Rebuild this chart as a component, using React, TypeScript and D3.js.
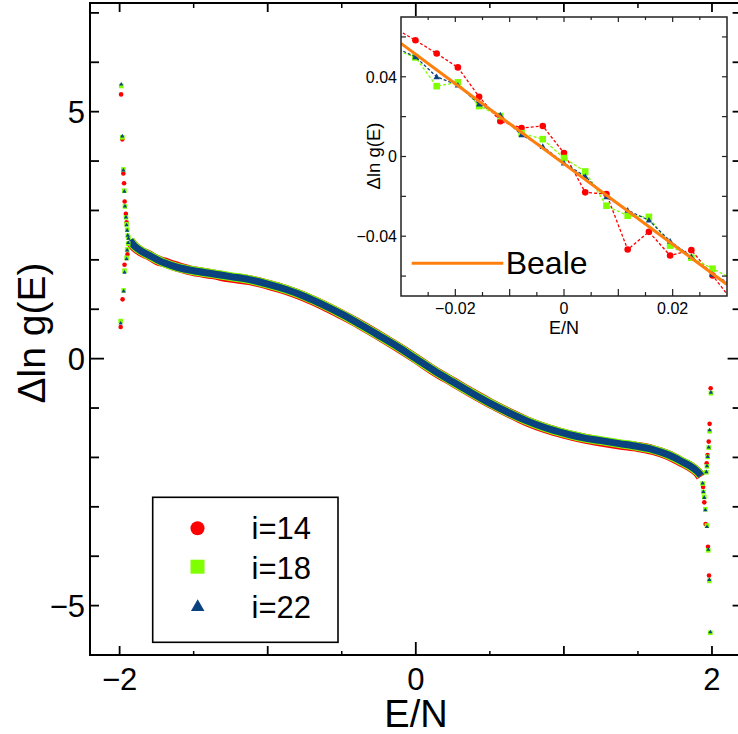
import React from "react";
import * as d3 from "d3";

// ---------- main panel data ----------
const curveE = [-1.93,-1.9,-1.85,-1.8,-1.75,-1.7,-1.6,-1.5,-1.375,-1.25,-1.125,-1.0,-0.875,-0.75,-0.625,-0.5,-0.375,-0.25,-0.125,0,0.125,0.25,0.375,0.5,0.625,0.75,0.875,1.0,1.125,1.25,1.375,1.5,1.6,1.7,1.75,1.8,1.85,1.9,1.926];
const curve22 = [2.40,2.28,2.17,2.09,2.01,1.94,1.84,1.78,1.72,1.66,1.60,1.51,1.40,1.26,1.09,0.90,0.69,0.47,0.245,0,-0.245,-0.47,-0.69,-0.90,-1.09,-1.26,-1.40,-1.51,-1.60,-1.66,-1.72,-1.78,-1.84,-1.94,-2.01,-2.09,-2.17,-2.28,-2.37];
const curve18 = [2.40,2.28,2.17,2.09,2.01,1.94,1.84,1.78,1.72,1.66,1.60,1.51,1.40,1.26,1.09,0.90,0.69,0.47,0.245,0,-0.245,-0.47,-0.69,-0.90,-1.09,-1.26,-1.40,-1.51,-1.60,-1.66,-1.72,-1.78,-1.84,-1.94,-2.01,-2.09,-2.17,-2.28,-2.37];
const curve14 = [2.38,2.27,2.16,2.09,2.00,1.95,1.85,1.77,1.71,1.64,1.59,1.50,1.39,1.25,1.08,0.89,0.69,0.47,0.24,0,-0.25,-0.47,-0.69,-0.90,-1.09,-1.27,-1.41,-1.52,-1.61,-1.68,-1.74,-1.79,-1.85,-1.95,-2.02,-2.10,-2.18,-2.29,-2.39];

const spikeE22 = [-1.989,-1.982,-1.975,-1.968,-1.964,-1.957,-1.953,-1.949,-1.945,-1.940,-1.942,-1.949,-1.953,-1.967,-1.973,-1.993,1.993,1.984,1.978,1.971,1.966,1.962,1.937,1.942,1.948,1.955,1.966,1.975,1.982,1.989];
const spikeV22 = [5.56,4.51,3.82,3.39,3.09,2.87,2.71,2.60,2.50,2.44,2.35,2.20,2.02,1.75,1.37,0.72,-0.68,-1.44,-1.79,-1.98,-2.17,-2.29,-2.52,-2.69,-2.81,-3.06,-3.40,-3.86,-4.47,-5.53];
const spikeE18 = [-1.989,-1.982,-1.975,-1.968,-1.964,-1.957,-1.953,-1.949,-1.945,-1.940,-1.942,-1.949,-1.953,-1.967,-1.973,-1.993,1.993,1.984,1.978,1.971,1.966,1.962,1.937,1.942,1.948,1.955,1.966,1.975,1.982,1.989];
const spikeV18 = [5.52,4.48,3.83,3.40,3.08,2.86,2.72,2.61,2.49,2.45,2.33,2.21,2.04,1.78,1.38,0.76,-0.70,-1.47,-1.80,-1.99,-2.18,-2.30,-2.53,-2.70,-2.80,-3.05,-3.38,-3.88,-4.50,-5.55];
const spikeE14 = [-1.990,-1.982,-1.975,-1.970,-1.966,-1.958,-1.953,-1.947,-1.967,-1.980,-1.993,1.991,1.984,1.978,1.970,1.964,1.940,1.948,1.957,1.973,1.980];
const spikeV14 = [5.35,4.44,3.75,3.55,3.18,2.93,2.76,2.11,1.90,1.20,0.64,-0.60,-1.32,-1.68,-1.95,-2.12,-2.60,-2.91,-3.35,-3.81,-4.39];

const xMajorTicks = [-2,-1,0,1,2];
const xMinorTicks = [-1.5,-0.5,0.5,1.5];
const xTickLabels = [-2,0,2];
const yTicks = [-5,-4,-3,-2,-1,0,1,2,3,4,5,6,7];
const yTickLabels = [-5,0,5];
const legendLabels = ["i=14","i=18","i=22"];

// ---------- inset data ----------
const insetK = [-8,-7,-6,-5,-4,-3,-2,-1,0,1,2,3,4,5,6,7,8];
const inset14 = [0.0645,0.0583,0.0517,0.0447,0.030,0.0177,0.0143,0.0153,0.0017,-0.018,-0.0188,-0.0467,-0.0378,-0.0497,-0.047,-0.0597,-0.0734];
const inset18 = [0.0538,0.0497,0.0353,0.0372,0.0253,0.0203,0.0117,0.0087,-0.0008,-0.0075,-0.0247,-0.0297,-0.0303,-0.0447,-0.0508,-0.0563,-0.0617];
const inset22 = [0.0549,0.05,0.04,0.0358,0.0263,0.0208,0.0108,0.005,-0.0033,-0.01,-0.0203,-0.027,-0.032,-0.0425,-0.0503,-0.0592,-0.0648];
const bealeE = [-0.03,-0.02,-0.01,0,0.01,0.02,0.03];
const bealeV = [0.0567,0.0365,0.0164,-0.0037,-0.0238,-0.044,-0.0642];
const insetXTicks = [-0.025,-0.02,-0.015,-0.01,-0.005,0,0.005,0.01,0.015,0.02,0.025];
const insetXLabels = [-0.02,0,0.02];
const insetYTicks = [-0.06,-0.04,-0.02,0,0.02,0.04,0.06];
const insetYLabels = [-0.04,0,0.04];

const RED = "#ff0000";
const GREEN = "#80ff00";
const BLUE = "#0a4280";
const ORANGE = "#ff7f0e";
const FONT = "'Liberation Sans', Arial, Helvetica, sans-serif";

const fmt = (v: number) => (v < 0 ? "\u2212" + String(Math.abs(v)) : String(v));

function tri(cx: number, cy: number, s: number) {
  const h = (s * Math.sqrt(3)) / 2;
  return `M${cx},${cy - (2 * h) / 3}L${cx + s / 2},${cy + h / 3}L${cx - s / 2},${cy + h / 3}Z`;
}

export default function App() {
  const W = 738, H = 734;
  const x = d3.scaleLinear().domain([-2.2, 2.2]).range([90, 741.6]);
  const y = d3.scaleLinear().domain([-6, 7.2]).range([655, 3]);

  const xi = d3.scaleLinear().domain([-0.03, 0.03]).range([401, 727]);
  const yi = d3.scaleLinear().domain([-0.07, 0.07]).range([296, 17]);
  const insetE = insetK.map((k) => k * (4 / 1024));

  const mainLine = (vals: number[]) =>
    d3.line<number>().x((_, i) => x(curveE[i])).y((v) => y(v)).curve(d3.curveCatmullRom)(vals) || "";
  const insetLine = (vals: number[]) =>
    d3.line<number>().x((_, i) => xi(insetE[i])).y((v) => yi(v))(vals) || "";
  const bealePath = d3.line<number>().x((_, i) => xi(bealeE[i])).y((v) => yi(v))(bealeV) || "";

  const X0 = 90, X1 = 741.6, Y0 = 3, Y1 = 655;
  const xTickLen = (t: number) => (t === 0 ? 13 : 9);
  const yTickLen = (t: number) => (t === 0 ? 14 : 9);

  return (
    <svg width={W} height={H} style={{ position: "absolute", left: 0, top: 0, background: "#fff" }} fontFamily={FONT}>
      <rect x={0} y={0} width={W} height={H} fill="#fff" />
      <defs>
        <clipPath id="insetClip">
          <rect x={401} y={17} width={326} height={279} />
        </clipPath>
      </defs>

      {/* main bands */}
      <path d={mainLine(curve14)} fill="none" stroke={RED} strokeWidth={10} strokeLinejoin="round" />
      <path d={mainLine(curve18)} fill="none" stroke={GREEN} strokeWidth={9} strokeLinejoin="round" />
      <path d={mainLine(curve22)} fill="none" stroke={BLUE} strokeWidth={7} strokeLinejoin="round" />

      {/* spike markers */}
      {spikeE14.map((e, i) => (
        <circle key={"r" + i} cx={x(e)} cy={y(spikeV14[i])} r={2.3} fill={RED} />
      ))}
      {spikeE18.map((e, i) => (
        <rect key={"g" + i} x={x(e) - 2.3} y={y(spikeV18[i]) - 2.3} width={4.6} height={4.6} fill={GREEN} />
      ))}
      {spikeE22.map((e, i) => (
        <path key={"b" + i} d={tri(x(e), y(spikeV22[i]) + 0.3, 4.2)} fill={BLUE} />
      ))}

      {/* main frame */}
      <rect x={X0} y={Y0} width={X1 - X0} height={Y1 - Y0} fill="none" stroke="#000" strokeWidth={2} />
      {xMajorTicks.map((t) => (
        <g key={"xt" + t}>
          <line x1={x(t)} x2={x(t)} y1={Y1} y2={Y1 - xTickLen(t)} stroke="#000" strokeWidth={1.8} />
          <line x1={x(t)} x2={x(t)} y1={Y0} y2={Y0 + xTickLen(t)} stroke="#000" strokeWidth={1.8} />
        </g>
      ))}
      {xMinorTicks.map((t) => (
        <g key={"xm" + t}>
          <line x1={x(t)} x2={x(t)} y1={Y1} y2={Y1 - 4} stroke="#000" strokeWidth={1.5} />
          <line x1={x(t)} x2={x(t)} y1={Y0} y2={Y0 + 5} stroke="#000" strokeWidth={1.5} />
        </g>
      ))}
      {yTicks.map((t) => (
        <g key={"yt" + t}>
          <line x1={X0} x2={X0 + yTickLen(t)} y1={y(t)} y2={y(t)} stroke="#000" strokeWidth={1.8} />
          <line x1={X1} x2={X1 - yTickLen(t)} y1={y(t)} y2={y(t)} stroke="#000" strokeWidth={1.8} />
        </g>
      ))}
      {xTickLabels.map((t) => (
        <text key={"xl" + t} x={x(t)} y={690} fontSize={31} textAnchor="middle">{fmt(t)}</text>
      ))}
      {yTickLabels.map((t) => (
        <text key={"yl" + t} x={85} y={y(t)} dy="0.36em" fontSize={31} textAnchor="end">{fmt(t)}</text>
      ))}
      <text x={416} y={727} fontSize={38} textAnchor="middle">E/N</text>
      <text transform="translate(45,333) rotate(-90)" fontSize={39} textAnchor="middle">Δln g(E)</text>

      {/* legend */}
      <rect x={152.7} y={497.3} width={185.3} height={145} fill="#fff" stroke="#000" strokeWidth={1.6} />
      <circle cx={197.5} cy={528.3} r={7} fill={RED} />
      <rect x={190.5} y={559.7} width={14} height={14} fill={GREEN} />
      <path d={tri(197.7, 607, 13.5)} fill={BLUE} />
      {legendLabels.map((l, i) => (
        <text key={l} x={251.5} y={539.3 + i * 39.2} fontSize={31}>{l}</text>
      ))}

      {/* inset */}
      <rect x={401} y={17} width={326} height={279} fill="#fff" />
      <g clipPath="url(#insetClip)">
        <path d={insetLine(inset14)} fill="none" stroke={RED} strokeWidth={1.3} strokeDasharray="3,2" />
        {insetE.map((e, i) => (
          <circle key={"ir" + i} cx={xi(e)} cy={yi(inset14[i])} r={3.3} fill={RED} />
        ))}
        <path d={insetLine(inset18)} fill="none" stroke={GREEN} strokeWidth={1.3} strokeDasharray="3,2" />
        {insetE.map((e, i) => (
          <rect key={"ig" + i} x={xi(e) - 3.3} y={yi(inset18[i]) - 3.3} width={6.6} height={6.6} fill={GREEN} />
        ))}
        <path d={insetLine(inset22)} fill="none" stroke={BLUE} strokeWidth={1.3} strokeDasharray="3,2" />
        {insetE.map((e, i) => (
          <path key={"ib" + i} d={tri(xi(e), yi(inset22[i]) + 0.5, 6.4)} fill={BLUE} />
        ))}
        <path d={bealePath} fill="none" stroke={ORANGE} strokeWidth={3} />
      </g>
      <rect x={401} y={17} width={326} height={279} fill="none" stroke="#222" strokeWidth={1.5} />
      {insetXTicks.map((t) => {
        const major = Math.abs(Math.round(t * 100) - t * 100) < 1e-6;
        return (
          <g key={"ixt" + t}>
            <line x1={xi(t)} x2={xi(t)} y1={296} y2={296 - (major ? 7 : 4)} stroke="#222" strokeWidth={1.2} />
            <line x1={xi(t)} x2={xi(t)} y1={17} y2={17 + (major ? 5 : 3)} stroke="#222" strokeWidth={1.2} />
          </g>
        );
      })}
      {insetYTicks.map((t) => (
        <g key={"iyt" + t}>
          <line x1={401} x2={406} y1={yi(t)} y2={yi(t)} stroke="#222" strokeWidth={1.2} />
          <line x1={727} x2={722} y1={yi(t)} y2={yi(t)} stroke="#222" strokeWidth={1.2} />
        </g>
      ))}
      {insetXLabels.map((t) => (
        <text key={"ixl" + t} x={xi(t)} y={314} fontSize={16} textAnchor="middle">{fmt(t)}</text>
      ))}
      {insetYLabels.map((t) => (
        <text key={"iyl" + t} x={397} y={yi(t)} dy="0.36em" fontSize={16} textAnchor="end">{fmt(t)}</text>
      ))}
      <text x={564} y={333.5} fontSize={18} textAnchor="middle">E/N</text>
      <text transform="translate(380,156) rotate(-90)" fontSize={18.5} textAnchor="middle">Δln g(E)</text>
      <line x1={411.7} x2={503.3} y1={263.3} y2={263.3} stroke={ORANGE} strokeWidth={3} />
      <text x={505.7} y={273.5} fontSize={32}>Beale</text>
    </svg>
  );
}
